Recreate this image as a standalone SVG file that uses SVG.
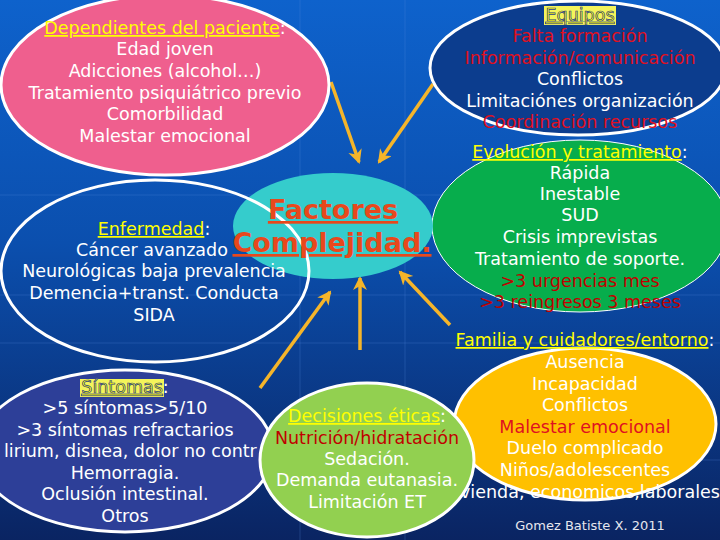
<svg xmlns="http://www.w3.org/2000/svg" width="720" height="540" viewBox="0 0 720 540">
<defs>
<linearGradient id="bg" x1="0" y1="0" x2="0" y2="1">
<stop offset="0" stop-color="#0e62cc"/>
<stop offset="0.45" stop-color="#0b4fae"/>
<stop offset="1" stop-color="#0a2462"/>
</linearGradient>
<marker id="ah" markerUnits="userSpaceOnUse" markerWidth="16" markerHeight="16" refX="12" refY="7" orient="auto">
<path d="M0,0 L14,7 L0,14 L4,7 z" fill="#f5b52a"/>
</marker>
<style>
text{font-family:"DejaVu Sans","Liberation Sans",sans-serif;font-size:17.5px;text-anchor:middle;fill:#ffffff}
.hd{fill:#ffff00;text-decoration:underline}
.hl{fill:#ffff00;stroke:#2a3a8a;stroke-width:0.7;text-decoration:underline}
.red{fill:#e01020}
.dred{fill:#c00000}
.big{font-weight:bold;font-size:27px;fill:#e8481c;text-decoration:underline}
.conn line{stroke:#f5b52a;stroke-width:3.5;marker-end:url(#ah)}
.grid line{stroke:#5a8ee0;stroke-width:1;opacity:0.25}
.ring{stroke:#ffffff;stroke-width:3}
</style>
</defs>
<rect width="720" height="540" fill="url(#bg)"/>
<g class="grid">
<line x1="0" y1="195" x2="720" y2="195"/>
<line x1="0" y1="295" x2="720" y2="295"/>
<line x1="0" y1="343" x2="720" y2="343"/>
<line x1="0" y1="460" x2="720" y2="460"/>
<line x1="300" y1="0" x2="300" y2="540"/>
<line x1="405" y1="0" x2="405" y2="540"/>
</g>
<g id="connectors" class="conn">
<line x1="331" y1="82" x2="359" y2="162"/>
<line x1="433" y1="84" x2="379" y2="162"/>
<line x1="260" y1="388" x2="330" y2="292"/>
<line x1="360" y1="350" x2="360" y2="278"/>
<line x1="450" y1="325" x2="400" y2="272"/>
</g>
<g id="dependientes">
<ellipse class="ring" cx="165" cy="85" rx="164" ry="90" fill="#ef5f8e"/>
<text x="165" y="34"><tspan class="hd">Dependientes del paciente</tspan>:</text>
<text x="165" y="55">Edad joven</text>
<text x="165" y="77">Adicciones (alcohol…)</text>
<text x="165" y="99">Tratamiento psiquiátrico previo</text>
<text x="165" y="120">Comorbilidad</text>
<text x="165" y="142">Malestar emocional</text>
</g>
<g id="equipos">
<ellipse class="ring" cx="578" cy="68" rx="148" ry="67" fill="#0c3d8e"/>
<rect x="544" y="6" width="72" height="19" fill="#f4f45a"/>
<text x="580" y="21" class="hl">Equipos</text>
<text x="580" y="42" class="red">Falta formación</text>
<text x="580" y="64" class="red">Información/comunicación</text>
<text x="580" y="85">Conflictos</text>
<text x="580" y="107">Limitaciónes organización</text>
<text x="580" y="128" class="red">Coordinación recursos</text>
</g>
<g id="evolucion">
<ellipse cx="580" cy="226" rx="148" ry="86" fill="#07ad4c" stroke="#ffffff" stroke-width="1"/>
<text x="580" y="158"><tspan class="hd">Evolución y tratamiento</tspan>:</text>
<text x="580" y="179">Rápida</text>
<text x="580" y="200">Inestable</text>
<text x="580" y="221">SUD</text>
<text x="580" y="243">Crisis imprevistas</text>
<text x="580" y="265">Tratamiento de soporte.</text>
<text x="580" y="287" class="dred">&gt;3 urgencias mes</text>
<text x="580" y="308" class="dred">&gt;3 reingresos 3 meses</text>
</g>
<g id="factores">
<ellipse cx="333" cy="226" rx="100" ry="53" fill="#35cccc"/>
</g>
<g id="enfermedad">
<ellipse class="ring" cx="155" cy="271" rx="154" ry="91" fill="none"/>
<text x="154" y="235"><tspan class="hd">Enfermedad</tspan>:</text>
<text x="152" y="256">Cáncer avanzado</text>
<text x="154" y="277">Neurológicas baja prevalencia</text>
<text x="154" y="299">Demencia+transt. Conducta</text>
<text x="154" y="321">SIDA</text>
</g>
<g id="factores-label">
<text x="333" y="219" class="big">Factores</text>
<text x="332" y="252" class="big">Complejidad.</text>
</g>
<g id="sintomas">
<ellipse class="ring" cx="125" cy="451" rx="148" ry="81" fill="#2d3f98"/>
<rect x="80" y="379" width="84" height="18" fill="#f4f45a"/>
<text x="125" y="393"><tspan class="hl">Síntomas</tspan>:</text>
<text x="125" y="414">&gt;5 síntomas&gt;5/10</text>
<text x="125" y="436">&gt;3 síntomas refractarios</text>
<text x="4" y="457" style="text-anchor:start">lirium, disnea, dolor no contr</text>
<text x="125" y="479">Hemorragia.</text>
<text x="125" y="500">Oclusión intestinal.</text>
<text x="125" y="522">Otros</text>
</g>
<g id="familia">
<ellipse class="ring" cx="585" cy="424" rx="131" ry="76" fill="#ffc000"/>
<text x="585" y="346"><tspan class="hd">Familia y cuidadores/entorno</tspan>:</text>
<text x="585" y="368">Ausencia</text>
<text x="585" y="390">Incapacidad</text>
<text x="585" y="411">Conflictos</text>
<text x="585" y="433" class="red">Malestar emocional</text>
<text x="585" y="454">Duelo complicado</text>
<text x="585" y="476">Niños/adolescentes</text>
<text x="460" y="498" style="text-anchor:start">vienda, economicos,laborales</text>
</g>
<g id="decisiones">
<ellipse class="ring" cx="367" cy="460" rx="107" ry="77" fill="#92d050"/>
<text x="367" y="422"><tspan class="hd">Decisiones éticas</tspan>:</text>
<text x="367" y="444" class="dred">Nutrición/hidratación</text>
<text x="367" y="465">Sedación.</text>
<text x="367" y="486">Demanda eutanasia.</text>
<text x="367" y="508">Limitación ET</text>
</g>
<g id="credit">
<text x="590" y="530" style="font-size:13px;fill:#e6e6ee">Gomez Batiste X. 2011</text>
</g>
</svg>
